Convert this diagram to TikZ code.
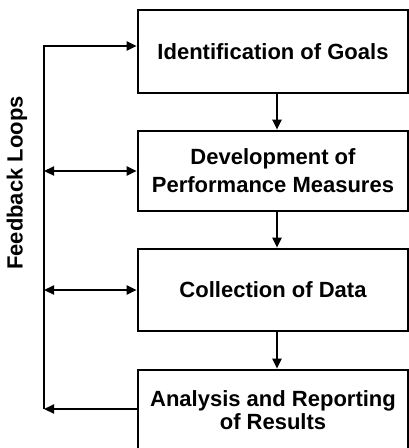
\documentclass[tikz,border=0pt]{standalone}
\usepackage{fontspec}
\setmainfont{Liberation Sans}
\usetikzlibrary{calc}
\usetikzlibrary{arrows.meta}
\usetikzlibrary{positioning}

\tikzset{
    stagebox/.style={draw=black, line width=2.6pt, minimum width=270pt, inner sep=0pt,
                     align=center, font=\bfseries\fontsize{22}{23}\selectfont},
    flow/.style={line width=2.2pt, -{Triangle[length=10pt,width=9pt]}},
    bothflow/.style={line width=2.2pt, {Triangle[length=10pt,width=9pt]}-{Triangle[length=10pt,width=9pt]}}
}

\begin{document}
\begin{tikzpicture}[x=1pt, y=-1pt]
            \useasboundingbox (0,0) rectangle (409,448);
            \clip (0,0) rectangle (409,448);
            % stages
            \node[stagebox, minimum height=83pt] (goals)   at (273.0,  51.5) {Identification of Goals};
            \node[stagebox, minimum height=80pt] (measures) at (273.0, 171.0) {Development of\\[5pt]Performance Measures};
            \node[stagebox, minimum height=82pt] (data)    at (273.0, 290.0) {Collection of Data};
            \node[stagebox, minimum height=80pt] (report)  at (273.0, 410.0) {Analysis and Reporting\\of Results};
            \node[rotate=90, font=\bfseries\fontsize{22}{23}\selectfont] (loops) at (17.0, 183.0) {Feedback Loops};
            \coordinate (loopTop) at (44.0,  46.0);
            \coordinate (loopBot) at (44.0, 409.0);
            % downward flow
            \draw[flow] ([xshift=4pt]goals.south)    -- ([xshift=4pt]measures.north);
            \draw[flow] ([xshift=4pt]measures.south) -- ([xshift=4pt]data.north);
            \draw[flow] ([xshift=4pt]data.south)     -- ([xshift=4pt]report.north);
            % feedback
            \draw[flow]     (loopBot) -- (loopTop) -- (loopTop -| goals.west);
            \draw[flow]     (report.west |- loopBot) -- (loopBot);
            \draw[bothflow] (loopTop |- measures.west) -- (measures.west);
            \draw[bothflow] (loopTop |- data.west) -- (data.west);
        \end{tikzpicture}
\end{document}
